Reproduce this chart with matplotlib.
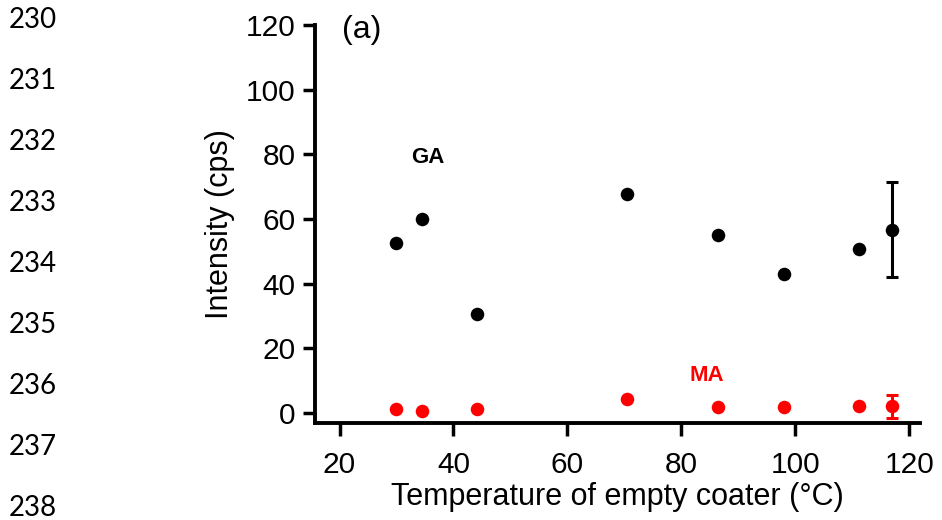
import matplotlib
matplotlib.use("Agg")
import matplotlib.pyplot as plt

# Measured intensities versus empty-coater temperature
temperature = [30.0, 34.5, 44.2, 70.5, 86.5, 98.0, 111.2, 116.9]
ga_intensity = [52.5, 60.0, 30.7, 67.6, 54.9, 42.9, 50.6, 56.7]
ma_intensity = [1.2, 0.6, 1.1, 4.4, 1.9, 1.9, 2.2, 2.1]
ga_error = [0, 0, 0, 0, 0, 0, 0, 14.6]
ma_error = [0, 0, 0, 0, 0, 0, 0, 3.6]

x_ticks = [20, 40, 60, 80, 100, 120]
y_ticks = [0, 20, 40, 60, 80, 100, 120]
line_numbers = ["230", "231", "232", "233", "234", "235", "236", "237", "238"]

plt.rcParams["font.family"] = ["Liberation Sans", "DejaVu Sans"]

fig = plt.figure(figsize=(9.42, 5.2), dpi=100)
ax = fig.add_axes([0.3344, 0.1865, 0.6423, 0.7654])

RED = "#ff0000"
n_plain = len(temperature) - 1

# error bars only where a spread was measured
ax.errorbar(temperature[n_plain:], ga_intensity[n_plain:], yerr=ga_error[n_plain:],
            fmt="none", ecolor="black", elinewidth=2.2, capsize=4.5,
            capthick=2.2, zorder=2)
ax.errorbar(temperature[n_plain:], ma_intensity[n_plain:], yerr=ma_error[n_plain:],
            fmt="none", ecolor=RED, elinewidth=2.2, capsize=4.5,
            capthick=2.2, zorder=2)

ax.scatter(temperature, ga_intensity, s=95, color="black", zorder=3, linewidths=0)
ax.scatter(temperature, ma_intensity, s=95, color=RED, zorder=3, linewidths=0)

ax.set_xlim(15.7, 121.9)
ax.set_ylim(-3.1, 120)
ax.set_xticks(x_ticks)
ax.set_yticks(y_ticks)
ax.tick_params(axis="both", labelsize=21.5, width=2.5, length=9, color="black")
ax.tick_params(axis="x", pad=11)
ax.tick_params(axis="y", pad=5)
for side in ("top", "right"):
    ax.spines[side].set_visible(False)
for side in ("left", "bottom"):
    ax.spines[side].set_linewidth(2.8)
    ax.spines[side].set_capstyle("projecting")

ax.set_xlabel("Temperature of empty coater (°C)", fontsize=22, labelpad=2)
ax.set_ylabel("Intensity (cps)", fontsize=22, labelpad=8)

ax.text(0.044, 0.988, "(a)", transform=ax.transAxes, fontsize=23, ha="left", va="center")
ax.text(35.5, 79, "GA", fontsize=16, fontweight="bold", color="black", ha="center", va="center")
ax.text(84.5, 11.5, "MA", fontsize=16, fontweight="bold", color=RED, ha="center", va="center")

# manuscript line numbering down the left margin
for i, label in enumerate(line_numbers):
    fig.text(9 / 942, 1 - (20 + i * 61.0) / 520, label, fontsize=20,
             family=["Lato", "DejaVu Sans"], ha="left", va="center", color="black")

fig.savefig("out.png", dpi=100)
